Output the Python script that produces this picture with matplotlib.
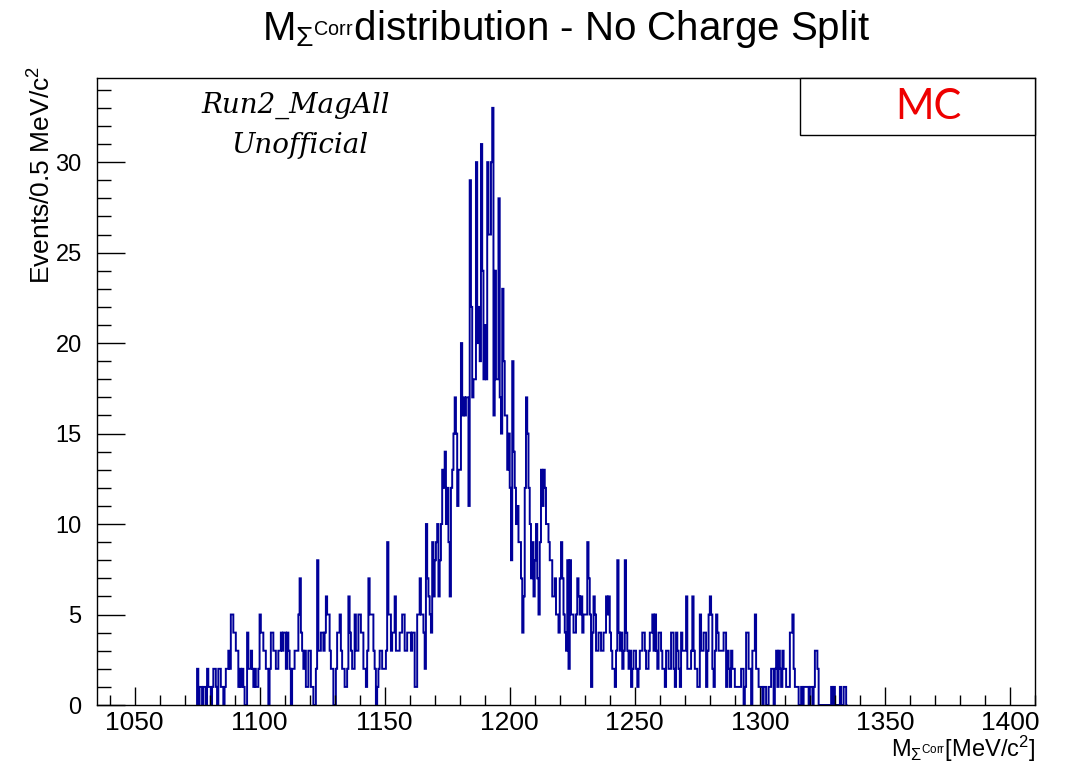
import numpy as np
import matplotlib
matplotlib.use("Agg")
import matplotlib.pyplot as plt
from matplotlib.patches import Rectangle
from matplotlib.ticker import MultipleLocator

plt.rcParams['font.family'] = ['Liberation Sans', 'DejaVu Sans']
plt.rcParams['mathtext.fontset'] = 'custom'
plt.rcParams['mathtext.rm'] = 'Liberation Sans'
plt.rcParams['mathtext.it'] = 'Liberation Sans:italic'
plt.rcParams['mathtext.bf'] = 'Liberation Sans:bold'

# ---- histogram definition (0.5 MeV bins starting at 1075 MeV) ----
bin_start = 1075.0
bin_width = 0.5

# 1075 - 1165 MeV
low_tail = [
    2, 0, 1, 1, 0, 1, 1, 0, 2, 1,
    1, 0, 1, 2, 2, 1, 0, 2, 2, 1,
    1, 0, 1, 2, 2, 3, 2, 5, 5, 4,
    4, 3, 3, 1, 2, 1, 2, 1, 0, 0,
    4, 2, 2, 3, 2, 1, 2, 1, 1, 2,
    5, 4, 4, 3, 3, 2, 2, 0, 2, 4,
    4, 3, 3, 2, 2, 3, 3, 4, 3, 4,
    4, 2, 4, 3, 2, 0, 2, 2, 3, 3,
    3, 5, 7, 4, 3, 2, 3, 1, 1, 3,
    3, 1, 1, 0, 0, 2, 8, 3, 3, 4,
    4, 3, 4, 6, 5, 5, 3, 2, 2, 0,
    0, 2, 4, 4, 5, 3, 2, 2, 1, 1,
    2, 6, 4, 3, 2, 2, 5, 3, 3, 5,
    5, 4, 4, 2, 2, 1, 3, 7, 5, 5,
    5, 3, 2, 0, 1, 2, 3, 3, 2, 2,
    2, 3, 9, 5, 5, 3, 4, 4, 6, 3,
    3, 3, 4, 4, 5, 5, 3, 3, 4, 4,
    4, 3, 4, 4, 1, 1, 5, 5, 7, 5,
]

# 1165 - 1220 MeV
peak = [
    5, 4, 2, 10, 7, 6, 5, 4, 9, 6,
    8, 9, 10, 6, 8, 10, 13, 12, 14, 10,
    12, 9, 6, 12, 13, 15, 17, 15, 11, 13,
    13, 20, 16, 17, 16, 17, 17, 11, 29, 22,
    17, 18, 18, 30, 20, 22, 19, 31, 24, 18,
    21, 18, 30, 26, 26, 30, 33, 16, 24, 18,
    18, 28, 17, 15, 23, 19, 16, 16, 13, 15,
    12, 8, 19, 14, 12, 10, 11, 9, 9, 7,
    4, 6, 12, 17, 15, 12, 10, 7, 9, 6,
    8, 10, 7, 5, 9, 13, 11, 13, 12, 10,
    10, 9, 8, 8, 6, 6, 7, 5, 5, 4,
]

# 1220 - 1335 MeV
high_tail = [
    7, 9, 7, 5, 4, 3, 8, 2, 8, 5,
    5, 4, 4, 5, 7, 6, 5, 6, 4, 5,
    5, 5, 9, 7, 5, 1, 4, 6, 5, 3,
    3, 4, 4, 3, 3, 4, 4, 6, 5, 6,
    4, 3, 2, 2, 1, 3, 8, 4, 3, 4,
    2, 3, 8, 4, 3, 2, 3, 1, 2, 3,
    3, 2, 1, 2, 3, 3, 4, 4, 3, 2,
    2, 3, 4, 4, 5, 3, 5, 3, 2, 4,
    4, 3, 2, 2, 1, 3, 3, 2, 2, 4,
    4, 2, 1, 4, 3, 2, 1, 4, 3, 3,
    3, 6, 2, 2, 2, 3, 6, 3, 2, 2,
    1, 1, 5, 3, 3, 4, 4, 1, 3, 5,
    6, 5, 2, 1, 3, 5, 4, 3, 3, 3,
    3, 4, 4, 1, 3, 2, 1, 3, 2, 2,
    1, 1, 1, 1, 1, 2, 2, 0, 1, 4,
    4, 2, 2, 0, 3, 3, 5, 2, 2, 1,
    1, 1, 0, 1, 1, 0, 0, 1, 1, 2,
    2, 0, 2, 3, 1, 3, 2, 1, 3, 2,
    2, 1, 1, 1, 4, 4, 5, 2, 1, 1,
    1, 0, 0, 1, 0, 1, 1, 1, 1, 0,
    1, 1, 0, 1, 3, 3, 2, 0, 0, 0,
    0, 0, 0, 0, 0, 0, 0, 1, 0, 1,
    0, 0, 0, 0, 1, 0, 0, 1, 1, 0,
]

x_ticks = [1050, 1100, 1150, 1200, 1250, 1300, 1350, 1400]
y_ticks = [0, 5, 10, 15, 20, 25, 30]

counts = np.array(low_tail + peak + high_tail, dtype=float)
edges = bin_start + bin_width * np.arange(len(counts) + 1)

W, H = 1066, 762
fig = plt.figure(figsize=(W / 100, H / 100), dpi=100)
ax = fig.add_axes([97 / W, 1 - 705 / H, 938 / W, 627 / H])

ax.stairs(counts, edges, baseline=0, color='#000099', linewidth=1.4)

ax.set_xlim(1035, 1410)
ax.set_ylim(0, 34.65)
ax.set_xticks(x_ticks)
ax.set_yticks(y_ticks)
ax.xaxis.set_minor_locator(MultipleLocator(10))
ax.yaxis.set_minor_locator(MultipleLocator(1))
ax.tick_params(axis='both', which='both', direction='in', top=False, right=False,
               color='black')
ax.tick_params(axis='y', which='major', length=20, width=1, labelsize=17, pad=11)
ax.tick_params(axis='y', which='minor', length=10, width=1)
ax.tick_params(axis='x', which='major', length=13, width=1, labelsize=19, pad=4)
ax.tick_params(axis='x', which='minor', length=7, width=1)
for s in ax.spines.values():
    s.set_linewidth(1.0)
    s.set_color('black')

# title
fig.text(566 / W, 1 - 29 / H,
         r'$\mathrm{M}_{\Sigma^{\mathrm{Corr}}}$distribution - No Charge Split',
         ha='center', va='center', fontsize=29)

# axis titles
fig.text(1035 / W, 1 - 749 / H, r'$\mathrm{M}_{\Sigma^{\mathrm{Corr}}}\mathrm{[MeV/c^{2}]}$',
         ha='right', va='center', fontsize=17)
fig.text(42 / W, 1 - 66 / H, r'Events/0.5 MeV/c$^{2}$', rotation=90,
         ha='center', va='top', fontsize=19)

# annotations
ax.text(0.212, 0.956, 'Run2_MagAll', transform=ax.transAxes, ha='center', va='center',
        fontsize=20, family='DejaVu Serif', style='italic')
ax.text(0.216, 0.892, 'Unofficial', transform=ax.transAxes, ha='center', va='center',
        fontsize=20, family='DejaVu Serif', style='italic')

# MC box
box = Rectangle((0.7495, 0.909), 0.2505, 0.091, transform=ax.transAxes,
                facecolor='white', edgecolor='black', linewidth=1.0, clip_on=False,
                zorder=5)
ax.add_patch(box)
ax.text(0.886, 0.9545, 'MC', transform=ax.transAxes, ha='center', va='center',
        fontsize=30, color='#ee0000', family='Lato', zorder=6)

fig.savefig('out.png', dpi=100, facecolor='white')
